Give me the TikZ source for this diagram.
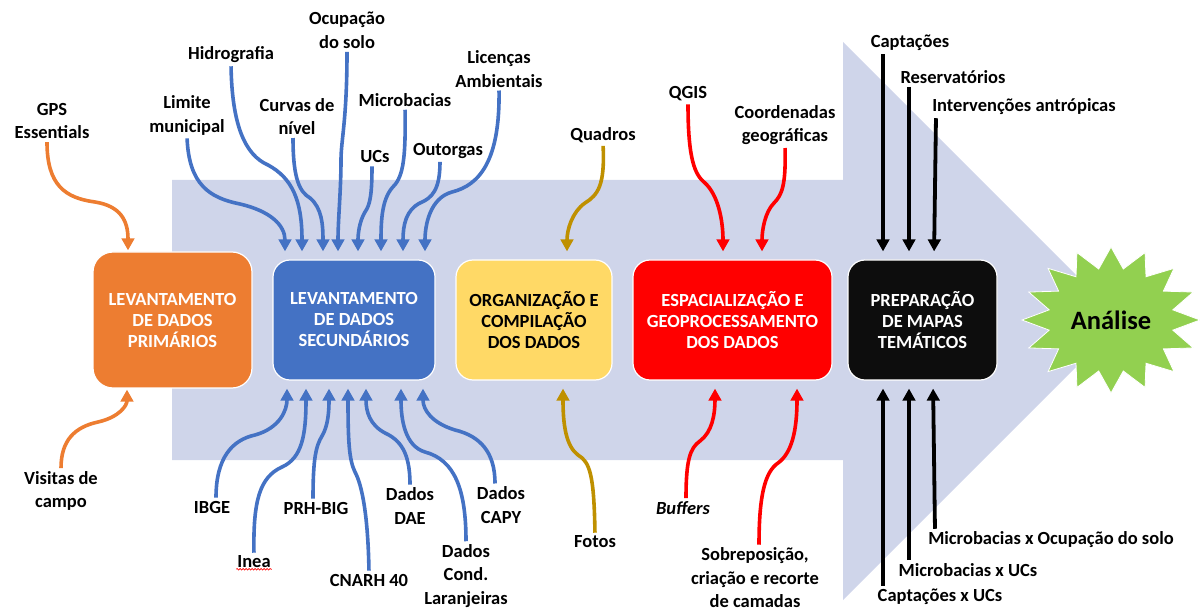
\documentclass[tikz,border=0pt]{standalone}
\usepackage{fontspec}
\setmainfont{Carlito}
\usetikzlibrary{arrows.meta,decorations.pathmorphing,calc}
\definecolor{arrowbg}{HTML}{CFD5EA}
\definecolor{cOrange}{HTML}{ED7D31}
\definecolor{cBlue}{HTML}{4472C4}
\definecolor{cYellow}{HTML}{FFD966}
\definecolor{cGold}{HTML}{BF9000}
\definecolor{cRed}{HTML}{FF0000}
\definecolor{cBlack}{HTML}{0D0D0D}
\definecolor{cGreen}{HTML}{92D050}
\newcommand\lblfont{\fontsize{18.5}{23.5}\selectfont\bfseries}
\newcommand\bxfont{\fontsize{18.5}{21}\selectfont\bfseries}
\begin{document}
\begin{tikzpicture}[x=1pt,y=-1pt,
  lab/.style={font=\lblfont, align=center, inner sep=1pt, text=black},
  box/.style={rounded corners=17pt, draw=white, line width=1.2pt, align=center, font=\bxfont, text=white, inner sep=0pt},
  conn/.style={line width=3.6pt, -{Triangle[length=12pt,width=12.5pt]}, shorten >=8pt, shorten <=2pt},
  bconn/.style={conn, cBlue},
  oconn/.style={conn, cOrange, shorten >=1pt},
  gconn/.style={conn, cGold},
  rconn/.style={conn, cRed},
  kconn/.style={conn, black, line width=3.8pt},
]
\useasboundingbox (0,0) rectangle (1200,612);

% big background arrow
\fill[arrowbg] (172,180) -- (843,180) -- (843,42) -- (1122,321) -- (843,600) -- (843,460) -- (172,460) -- cycle;

% process boxes
\node[box, fill=cOrange, minimum width=159pt, minimum height=136pt, rounded corners=20pt] (b1) at (172.5,320) {LEVANTAMENTO\\DE DADOS\\PRIMÁRIOS};
\node[box, fill=cBlue, minimum width=162pt, minimum height=120pt] (b2) at (354,320) {LEVANTAMENTO\\DE DADOS\\SECUNDÁRIOS};
\node[box, fill=cYellow, text=black, minimum width=156pt, minimum height=120pt] (b3) at (534,320) {ORGANIZAÇÃO E\\COMPILAÇÃO\\DOS DADOS};
\node[box, fill=cRed, minimum width=199pt, minimum height=120pt] (b4) at (732.5,320) {ESPACIALIZAÇÃO E\\GEOPROCESSAMENTO\\DOS DADOS};
\node[box, fill=cBlack, minimum width=149pt, minimum height=120pt] (b5) at (922.5,320) {PREPARAÇÃO\\DE MAPAS\\TEMÁTICOS};

% star
\filldraw[fill=cGreen, draw=white, line width=0.8pt] plot[samples at={0,...,31}, variable=\k]
  ({1111 + ifthenelse(mod(\k,2)==0,89,63)*cos(90+11.25*\k)}, {320 - ifthenelse(mod(\k,2)==0,73,52)*sin(90+11.25*\k)}) -- cycle;
\node[font=\fontsize{26.5}{30}\selectfont\bfseries, text=black] (ana) at (1111,320) {Análise};

% labels top
\node[lab] (gps) at (52,121) {GPS\\Essentials};
\node[lab] (lim) at (187,115.5) {Limite\\municipal};
\node[lab] (hid) at (231,55) {Hidrografia};
\node[lab] (cur) at (297,116.5) {Curvas de\\nível};
\node[lab] (ocu) at (347,30.5) {Ocupação\\do solo};
\node[lab] (ucs) at (375,157) {UCs};
\node[lab] (mic) at (405,100) {Microbacias};
\node[lab] (out) at (448,151) {Outorgas};
\node[lab] (lic) at (499,69) {Licenças\\Ambientais};
\node[lab] (qua) at (603,135) {Quadros};
\node[lab] (qgi) at (688,94) {QGIS};
\node[lab] (coo) at (785,125) {Coordenadas\\geográficas};
\node[lab] (cap) at (910,43) {Captações};
\node[lab] (res) at (953,77) {Reservatórios};
\node[lab] (int) at (1024,107) {Intervenções antrópicas};

% labels bottom
\node[lab] (vis) at (61,491) {Visitas de\\campo};
\node[lab] (ibg) at (212,507) {IBGE};
\node[lab] (ine) at (254,562) {Inea};
\node[lab] (prh) at (316,508) {PRH-BIG};
\node[lab] (cna) at (369,580) {CNARH 40};
\node[lab] (dae) at (410,506) {Dados\\DAE};
\node[lab] (lar) at (466,576) {Dados\\Cond.\\Laranjeiras};
\node[lab] (cpy) at (501,505) {Dados\\CAPY};
\node[lab] (fot) at (595,542) {Fotos};
\node[lab] (buf) at (683,508) {\itshape Buffers};
\node[lab] (sob) at (755,578) {Sobreposição,\\criação e recorte\\de camadas};
\node[lab] (cxu) at (940,597) {Captações x UCs};
\node[lab] (mxu) at (968,570) {Microbacias x UCs};
\node[lab] (mxo) at (1051,540) {Microbacias x Ocupação do solo};

% spell-check underline under Inea
\draw[cRed, line width=0.6pt, decorate, decoration={snake, amplitude=0.8pt, segment length=3pt}] (ine.south west) -- (ine.south east);

% orange connectors
\draw[oconn] (gps.south -| 47,0) .. controls (47,185) and (65,198) .. (95,202) .. controls (120,206) and (128,220) .. (b1.north -| 128,0);
\draw[oconn] (vis.north) .. controls (61,440) and (75,427) .. (98,422) .. controls (120,417) and (127,405) .. (b1.south -| 127,0);

% blue connectors top
\draw[bconn] (lim.south) .. controls (189,185) and (210,198) .. (240,204) .. controls (270,211) and (285,225) .. (b2.north -| 285,0);
\draw[bconn] (hid.south) .. controls (232,125) and (245,155) .. (268,165) .. controls (292,178) and (302,200) .. (b2.north -| 302,0);
\draw[bconn] (cur.south -| 293,0) .. controls (293,180) and (300,192) .. (310,198) .. controls (322,208) and (323,225) .. (b2.north -| 323,0);
\draw[bconn] (ocu.south) .. controls (347,120) and (341,140) .. (341,160) .. controls (341,190) and (338,220) .. (b2.north -| 338,0);
\draw[bconn] (ucs.south -| 372,0) .. controls (372,195) and (370,205) .. (365,212) .. controls (359,222) and (358,235) .. (b2.north -| 358,0);
\draw[bconn] (mic.south) .. controls (406,165) and (402,178) .. (392,188) .. controls (382,200) and (381,220) .. (b2.north -| 381,0);
\draw[bconn] (out.south -| 440,0) .. controls (440,190) and (432,198) .. (420,203) .. controls (406,210) and (403,225) .. (b2.north -| 403,0);
\draw[bconn] (lic.south) .. controls (500,160) and (480,185) .. (452,192) .. controls (430,198) and (425,225) .. (b2.north -| 425,0);

% blue connectors bottom
\draw[bconn] (ibg.north -| 216,0) .. controls (216,458) and (232,440) .. (255,435) .. controls (280,428) and (287,410) .. (b2.south -| 287,0);
\draw[bconn] (ine.north) .. controls (253,500) and (260,477) .. (282,467) .. controls (302,458) and (306,435) .. (b2.south -| 306,0);
\draw[bconn] (prh.north -| 313,0) .. controls (313,458) and (316,446) .. (322,436) .. controls (328,426) and (329,412) .. (b2.south -| 329,0);
\draw[bconn] (cna.north) .. controls (368,515) and (362,485) .. (355,472) .. controls (349,460) and (348,440) .. (b2.south -| 348,0);
\draw[bconn] (dae.north) .. controls (410,452) and (400,440) .. (385,433) .. controls (370,425) and (366,412) .. (b2.south -| 366,0);
\draw[bconn] (lar.north) .. controls (466,490) and (455,460) .. (425,452) .. controls (405,446) and (401,420) .. (b2.south -| 401,0);
\draw[bconn] (cpy.north -| 495,0) .. controls (495,452) and (480,436) .. (455,430) .. controls (432,423) and (423,410) .. (b2.south -| 423,0);

% gold connectors
\draw[gconn] (qua.south) .. controls (605,185) and (598,195) .. (585,203) .. controls (572,212) and (567,230) .. (b3.north -| 567,0);
\draw[gconn] (fot.north) .. controls (594,475) and (590,462) .. (578,455) .. controls (566,446) and (563,425) .. (b3.south -| 563,0);

% red connectors
\draw[rconn] (qgi.south) .. controls (688,160) and (695,175) .. (705,183) .. controls (718,195) and (723,220) .. (b4.north -| 723,0);
\draw[rconn] (coo.south) .. controls (786,185) and (782,195) .. (774,203) .. controls (765,212) and (762,230) .. (b4.north -| 762,0);
\draw[rconn] (buf.north -| 686,0) .. controls (686,460) and (690,448) .. (700,441) .. controls (712,432) and (715,415) .. (b4.south -| 715,0);
\draw[rconn] (sob.north -| 759,0) .. controls (759,495) and (765,472) .. (778,463) .. controls (792,453) and (797,430) .. (b4.south -| 797,0);

% black connectors
\draw[kconn] (cap.south -| 883,0) -- (b5.north -| 883,0);
\draw[kconn] (res.south -| 909,0) -- (b5.north -| 909,0);
\draw[kconn] (int.south -| 936,0) -- (b5.north -| 934,0);
\draw[kconn] (cxu.north -| 883,0) -- (b5.south -| 883,0);
\draw[kconn] (mxu.north -| 909,0) -- (b5.south -| 909,0);
\draw[kconn] (mxo.north -| 935,0) -- (b5.south -| 933,0);
\end{tikzpicture}
\end{document}
